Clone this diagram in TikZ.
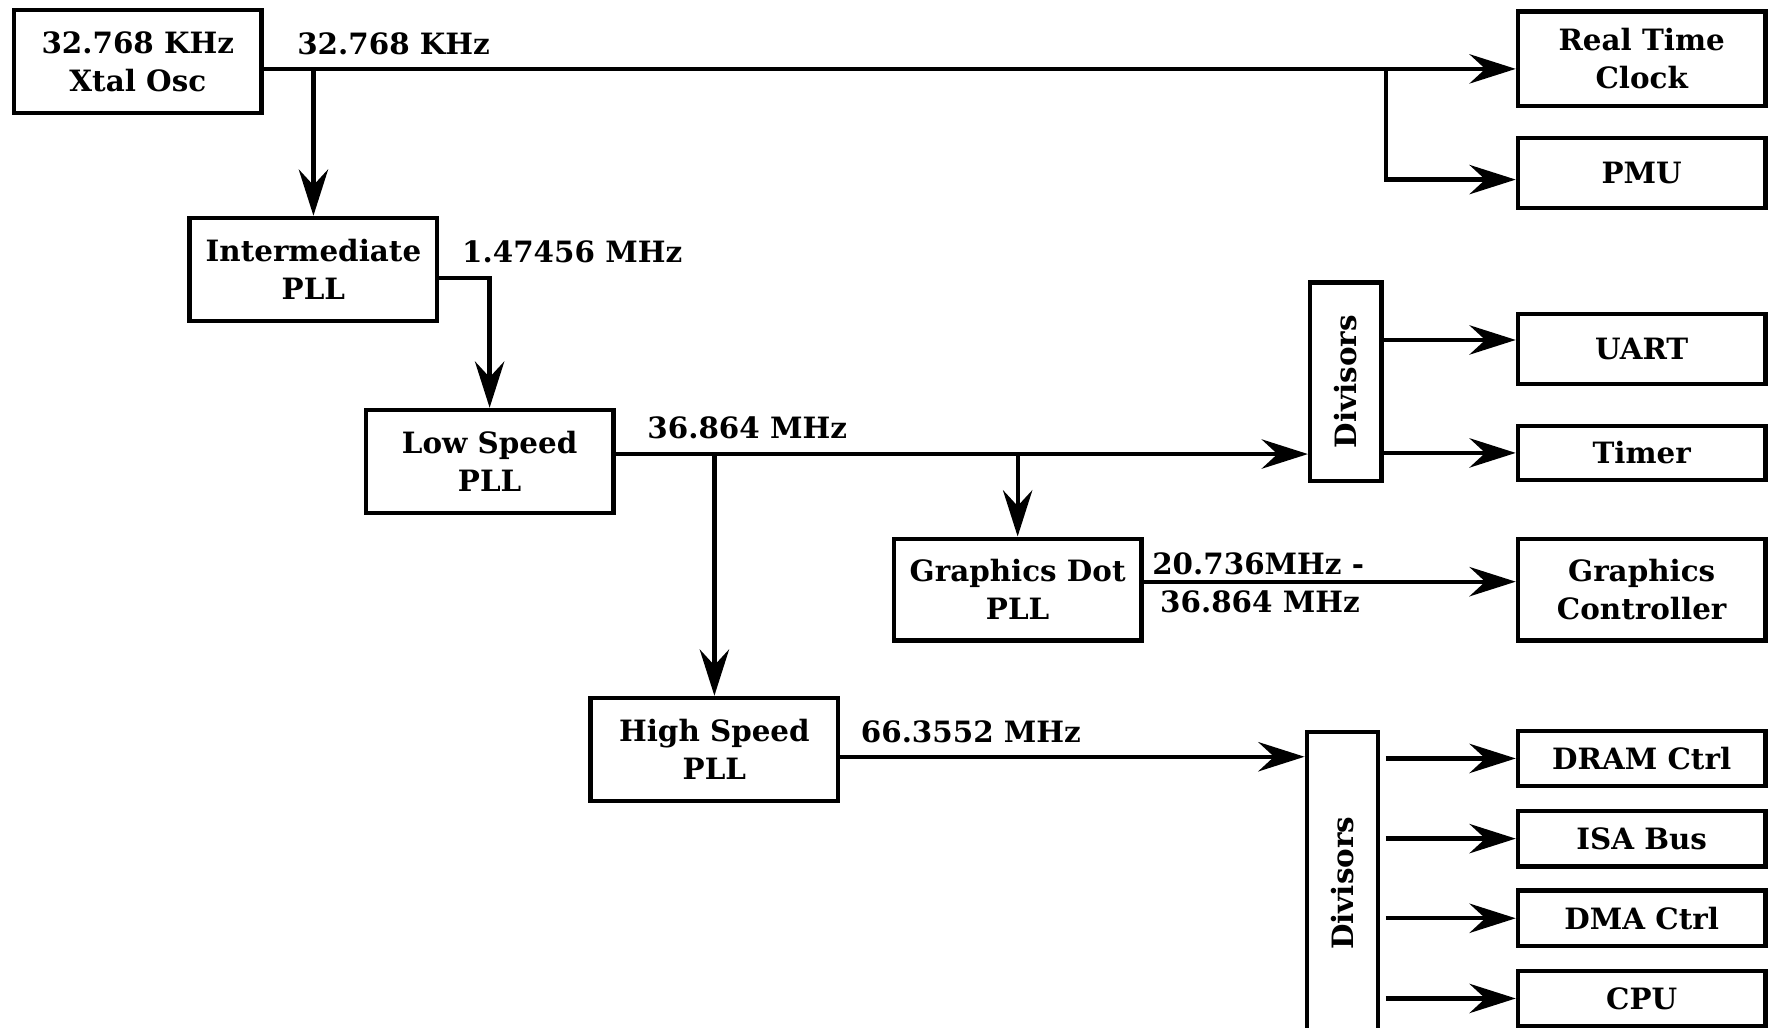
\documentclass[tikz,border=0pt]{standalone}
\usepackage{fontspec}
\setmainfont{DejaVu Serif}
\usetikzlibrary{arrows.meta,positioning}
\tikzset{
  blk/.style={draw,line width=4pt,align=center,inner sep=0pt,
    font=\bfseries\fontsize{26}{34}\selectfont},
  pllbox/.style={blk,minimum width=219pt,minimum height=91pt},
  outbox/.style={blk,minimum width=219pt},
  divbox/.style={blk,minimum width=63pt},
  wire/.style={line width=3.8pt},
  sig/.style={wire,-{Stealth[length=41pt,width=26pt,inset=14pt]}},
  flab/.style={anchor=west,inner sep=0pt,font=\bfseries\fontsize{26}{34}\selectfont},
}

\begin{document}
\begin{tikzpicture}[x=1pt,y=-1pt]
  \useasboundingbox (0,0) rectangle (1568,910);
  % bloklar
  \node[pllbox] (xtal) at (122,54.5) {32.768 KHz\\Xtal Osc};
  \node[pllbox] (ipll) at (277.5,238.5) {Intermediate\\PLL};
  \node[pllbox] (lpll) at (433.5,408.5) {Low Speed\\PLL};
  \node[pllbox,minimum height=90pt] (gpll) at (901,522) {Graphics Dot\\PLL};
  \node[pllbox] (hpll) at (632.5,663.5) {High Speed\\PLL};
  \node[divbox,minimum height=176pt] (div1) at (1191.5,338) {\rotatebox{90}{Divisors}};
  \node[divbox,minimum height=268pt] (div2) at (1188.5,782) {\rotatebox{90}{Divisors}};
  \node[outbox,minimum height=84pt] (rtc) at (1453.5,52) {Real Time\\Clock};
  \node[outbox,minimum height=62pt] (pmu) at (1453.5,153) {PMU};
  \node[outbox,minimum height=62pt] (uart) at (1453.5,309) {UART};
  \node[outbox,minimum height=48pt] (timer) at (1453.5,401) {Timer};
  \node[outbox,minimum height=90pt] (gctl) at (1453.5,522) {Graphics\\Controller};
  \node[outbox,minimum height=49pt] (dram) at (1453.5,671.5) {DRAM Ctrl};
  \node[outbox,minimum height=49pt] (isa) at (1453.5,742.5) {ISA Bus};
  \node[outbox,minimum height=49pt] (dma) at (1453.5,813) {DMA Ctrl};
  \node[outbox,minimum height=49pt] (cpu) at (1453.5,884) {CPU};
  % chastota belgilari
  \node[flab] (f1) at (263,39) {32.768 KHz};
  \node[flab] (f2) at (409,223) {1.47456 MHz};
  \node[flab] (f3) at (573,379) {36.864 MHz};
  \node[flab] (f4) at (1020,499) {20.736MHz -};
  \node[flab] (f5) at (1027,533) {36.864 MHz};
  \node[flab] (f6) at (762,648) {66.3552 MHz};
  % shinalar
  \coordinate (r1) at (0,61);
  \coordinate (r2) at (0,246);
  \coordinate (r3) at (0,402);
  \coordinate (r4) at (0,301);
  \coordinate (r5) at (0,515);
  \coordinate (r6) at (0,670);
  \coordinate (k1) at (1227,159);
  \draw[sig] (xtal.east |- r1) -- (rtc.west |- r1);
  \draw[sig] (ipll.north |- r1) -- (ipll.north);
  \draw[sig] (k1 |- r1) -- (k1) -- (pmu.west |- k1);
  \draw[sig] (ipll.east |- r2) -| (lpll.north);
  \draw[sig] (lpll.east |- r3) -- (div1.west |- r3);
  \draw[sig] (hpll.north |- r3) -- (hpll.north);
  \draw[sig] (gpll.north |- r3) -- (gpll.north);
  \draw[sig] (div1.east |- r4) -- (uart.west |- r4);
  \draw[sig] (div1.east |- timer) -- (timer.west);
  \draw[sig] (gpll.east |- r5) -- (gctl.west |- r5);
  \draw[sig] (hpll.east |- r6) -- (div2.west |- r6);
  \foreach \o in {dram,isa,dma,cpu}{%
    \draw[sig] ([xshift=5pt]div2.east |- \o) -- (\o.west);}
\end{tikzpicture}
\end{document}
